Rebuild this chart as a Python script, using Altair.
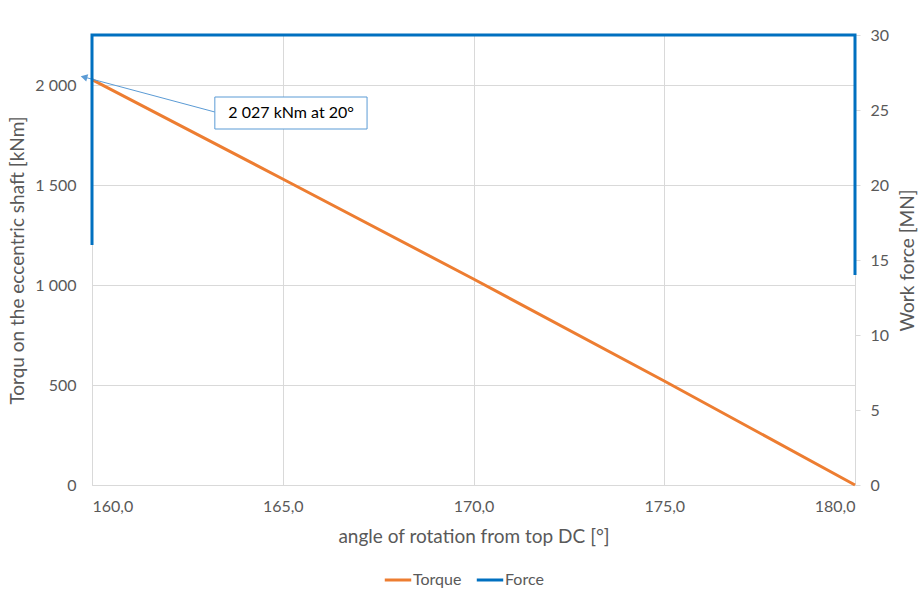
import altair as alt
import pandas as pd

# Data
angle = [160.0, 165.0, 170.0, 175.0, 180.0]
torque = [2027, 1530, 1030, 520, 0]
force_angle = [160.0, 160.0, 180.0, 180.0]
force = [16, 30, 30, 14]

ann_text = ["2 027 kNm at 20°"]
ann_x = [165.22]
ann_y = [1862]
box_x = [163.22]
box_x2 = [167.21]
box_y = [1940]
box_y2 = [1780]
arrow_from_x = [163.22]
arrow_from_y = [1865]
arrow_to_x = [159.79]
arrow_to_y = [2040]

ORANGE = "#ED7D31"
BLUE = "#0070C0"
CALLOUT = "#5B9BD5"
GRID = "#D9D9D9"
TXT = "#595959"
FONT = "Lato"

df_t = pd.DataFrame({"angle": angle, "value": torque, "series": "Torque"})
df_f = pd.DataFrame({"angle": force_angle, "value": force, "series": "Force",
                     "order": list(range(len(force)))})
df_a = pd.DataFrame({"text": ann_text, "x": ann_x, "y": ann_y,
                     "bx": box_x, "bx2": box_x2, "by": box_y, "by2": box_y2,
                     "ax": arrow_from_x, "ay": arrow_from_y,
                     "tx": arrow_to_x, "ty": arrow_to_y})

xscale = alt.Scale(domain=[160, 180], nice=False, zero=False)
xaxis = alt.Axis(title="angle of rotation from top DC [°]",
                 values=[160, 165, 170, 175, 180],
                 labelExpr="replace(format(datum.value, '.1f'), '.', ',')",
                 grid=True, gridColor=GRID, ticks=False, domainColor=GRID,
                 labelPadding=13, titlePadding=13)
yscale_l = alt.Scale(domain=[0, 2250], nice=False)
yaxis_l = alt.Axis(title="Torqu on the eccentric shaft [kNm]",
                   values=[0, 500, 1000, 1500, 2000],
                   labelExpr="replace(format(datum.value, ','), ',', ' ')",
                   grid=True, gridColor=GRID, ticks=False, domainColor=GRID,
                   labelPadding=16, titlePadding=7)
yscale_r = alt.Scale(domain=[0, 30], nice=False)
yaxis_r = alt.Axis(title="Work force [MN]", orient="right", titleAngle=270,
                   titleX=52, titleY=225, titleAlign="center", titleBaseline="middle",
                   values=[0, 5, 10, 15, 20, 25, 30],
                   grid=False, ticks=True, tickColor=GRID, tickSize=5,
                   domainColor=GRID, labelPadding=10)

color = alt.Color("series:N",
                  scale=alt.Scale(domain=["Torque", "Force"], range=[ORANGE, BLUE]),
                  legend=alt.Legend(title=None, orient="none", direction="horizontal",
                                    legendX=291, legendY=530,
                                    symbolType="stroke", symbolStrokeWidth=3,
                                    symbolSize=700, labelFontSize=16,
                                    labelColor=TXT, labelFont=FONT,
                                    columnPadding=8, labelOffset=0))

torque_line = alt.Chart(df_t).mark_line(strokeWidth=3).encode(
    x=alt.X("angle:Q", scale=xscale, axis=xaxis),
    y=alt.Y("value:Q", scale=yscale_l, axis=yaxis_l),
    color=color,
)

arrow_line = alt.Chart(df_a).mark_rule(color=CALLOUT, strokeWidth=1, clip=False).encode(
    x="ax:Q", y="ay:Q", x2="tx:Q", y2="ty:Q")
arrow_head = alt.Chart(df_a).mark_point(shape="triangle-left", filled=True,
                                        color=CALLOUT, size=60, angle=15,
                                        opacity=1, clip=False).encode(
    x="tx:Q", y="ty:Q")
box = alt.Chart(df_a).mark_rect(fill="white", stroke=CALLOUT, strokeWidth=1).encode(
    x="bx:Q", x2="bx2:Q", y="by:Q", y2="by2:Q")
label = alt.Chart(df_a).mark_text(fontSize=16, color="#000000", font=FONT).encode(
    x="x:Q", y="y:Q", text="text:N")

left = alt.layer(torque_line, arrow_line, arrow_head, box, label)

force_line = alt.Chart(df_f).mark_line(strokeWidth=3, clip=False).encode(
    x=alt.X("angle:Q", scale=xscale, axis=xaxis),
    y=alt.Y("value:Q", scale=yscale_r, axis=yaxis_r),
    order="order:Q",
    color=color,
)

chart = alt.layer(left, force_line).resolve_scale(y="independent").properties(
    width=763, height=450,
    autosize=alt.AutoSizeParams(type="none"),
    padding={"left": 92, "top": 35, "right": 64, "bottom": 106},
    background="white",
).configure_view(stroke=None).configure_axis(
    labelFont=FONT, titleFont=FONT, labelFontSize=16, titleFontSize=19,
    labelColor=TXT, titleColor=TXT, titleFontWeight="normal",
)

chart.save("out.html", embed_options={"renderer": "svg", "actions": False})
